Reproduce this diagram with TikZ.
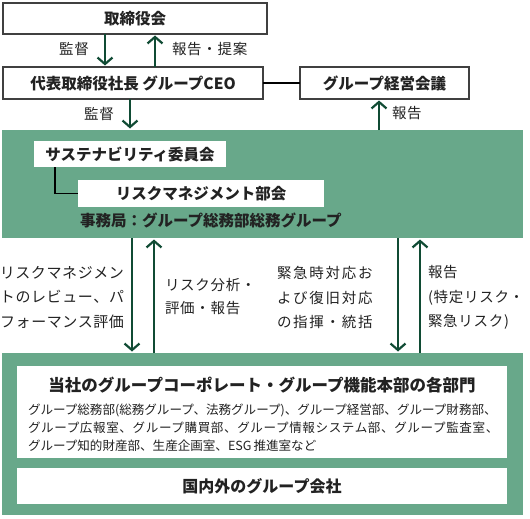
\documentclass[tikz,border=0pt]{standalone}
\usepackage{fontspec}
\setmainfont{Noto Sans CJK JP}
\usetikzlibrary{arrows.meta}
\definecolor{gfill}{HTML}{68A88A}
\definecolor{darr}{HTML}{104B34}
\definecolor{txt}{HTML}{222222}
\begin{document}
\begin{tikzpicture}[x=1pt,y=-1pt,
  every node/.style={inner sep=0pt, outer sep=0pt, text=txt},
  frame/.style={draw=black!75, line width=1.1pt, fill=white},
  wbox/.style={fill=white},
  gbox/.style={fill=gfill},
  arr/.style={draw=darr, line width=2.2pt, -{Straight Barb[length=6.5pt,width=15pt]}, shorten >=1.5pt},
  ttl/.style={font=\fontsize{15.5pt}{18pt}\selectfont\bfseries},
  lbl/.style={font=\fontsize{14.5pt}{24.5pt}\selectfont\addfontfeature{LetterSpace=5}},
  conn/.style={draw=black, line width=1.4pt},
]
\useasboundingbox (0,0) rectangle (530,519);

% top boxes
\node[frame, ttl, minimum width=264pt, minimum height=31pt] (board) at (135,18.5) {取締役会};
\node[frame, ttl, minimum width=260pt, minimum height=32pt] (ceo) at (133,83) {代表取締役社長 グループCEO};
\node[frame, ttl, minimum width=169pt, minimum height=32pt] (mtg) at (384.5,83) {グループ経営会議};
\draw[conn] (ceo.east) -- (mtg.west);

% green panel 1
\node[gbox, minimum width=521pt, minimum height=108pt] (g1) at (262.5,184) {};
\node[wbox, ttl, minimum width=192pt, minimum height=26pt] (sus) at (130,154) {サステナビリティ委員会};
\node[wbox, ttl, minimum width=246pt, minimum height=27pt] (rmd) at (201,193.5) {リスクマネジメント部会};
\node[ttl, anchor=west] (jimu) at (80,220) {事務局：グループ総務部総務グループ};
\coordinate (xe) at (55,0);
\draw[conn] (sus.south -| xe) |- (rmd.west);

% green panel 2
\node[gbox, minimum width=521pt, minimum height=162pt] (g2) at (262.5,434) {};
\node[wbox, minimum width=490pt, minimum height=92pt] (dept) at (262,412) {};
\node[font=\fontsize{16.5pt}{19pt}\selectfont\bfseries] (depttitle) at (262,385) {当社のグループコーポレート・グループ機能本部の各部門};
\node[anchor=west, align=left, font=\fontsize{12.55pt}{18pt}\selectfont] (deptbody) at (28,428)
 {グループ総務部(総務グループ、法務グループ)、グループ経営部、グループ財務部、\\
  {\addfontfeature{LetterSpace=5}グループ広報室、グループ購買部、グループ情報システム部、グループ監査室、}\\
  グループ知的財産部、生産企画室、ESG\hspace{2pt}推進室など};
\node[wbox, font=\fontsize{16pt}{19pt}\selectfont\bfseries, minimum width=490pt, minimum height=36pt] (grp) at (262,486) {国内外のグループ会社};

% arrows top
\coordinate (xa) at (105,0);
\coordinate (xb) at (155,0);
\coordinate (xc) at (130,0);
\coordinate (xd) at (379,0);
\draw[arr] (board.south -| xa) -- (ceo.north -| xa);
\draw[arr] (ceo.north -| xb) -- (board.south -| xb);
\draw[arr] (ceo.south -| xc) -- (g1.north -| xc);
\draw[arr] (g1.north -| xd) -- (mtg.south -| xd);
\node[lbl] (l1) at (74,49) {監督};
\node[lbl, anchor=west] (l2) at (172,49) {報告・提案};
\node[lbl] (l3) at (99,114) {監督};
\node[lbl, anchor=west] (l4) at (392,113) {報告};

% middle arrows
\coordinate (xf) at (132,0);
\coordinate (xg) at (154,0);
\coordinate (xh) at (398,0);
\coordinate (xi) at (420,0);
\draw[arr] (g1.south -| xf) -- (g2.north -| xf);
\draw[arr] (g2.north -| xg) -- (g1.south -| xg);
\draw[arr] (g1.south -| xh) -- (g2.north -| xh);
\draw[arr] (g2.north -| xi) -- (g1.south -| xi);

\node[lbl, anchor=east, align=right, font=\fontsize{15pt}{24.5pt}\selectfont\addfontfeature{LetterSpace=4}] (m1) at (124,297.5) {リスクマネジメン\\トのレビュー、パ\\フォーマンス評価};
\node[lbl, anchor=west, align=left, font=\fontsize{14.5pt}{23pt}\selectfont\addfontfeature{LetterSpace=5}] (m2) at (165,296.5) {リスク分析・\\評価・報告};
\node[lbl, anchor=west, align=left, font=\fontsize{14.5pt}{24.5pt}\selectfont\addfontfeature{LetterSpace=12}] (m3) at (277,297.5) {緊急時対応お\\よび復旧対応\\の指揮・統括};
\node[lbl, anchor=west, align=left] (m4) at (428,297.5) {報告\\(特定リスク・\\緊急リスク)};
\end{tikzpicture}
\end{document}
